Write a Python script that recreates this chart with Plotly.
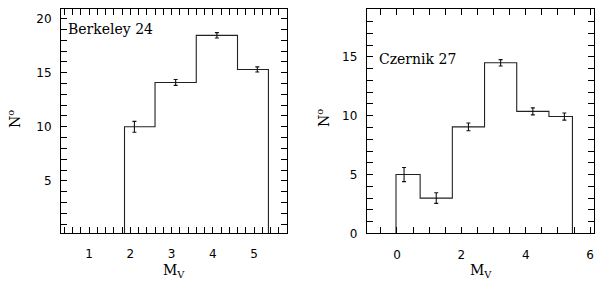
import plotly.graph_objects as go

# Berkeley 24
b24_edges = [1.86, 2.6, 3.6, 4.6, 5.35]
b24_counts = [10.0, 14.1, 18.45, 15.3]
b24_centers = [2.1, 3.1, 4.1, 5.08]
b24_errors = [0.5, 0.27, 0.25, 0.24]

# Czernik 27
c27_edges = [-0.03, 0.72, 1.72, 2.72, 3.72, 4.72, 5.45]
c27_counts = [5.0, 3.0, 9.05, 14.5, 10.37, 9.93]
c27_centers = [0.22, 1.22, 2.22, 3.22, 4.22, 5.2]
c27_errors = [0.6, 0.45, 0.33, 0.27, 0.3, 0.3]

W, H = 595, 282

B24_XRANGE = [0.32, 5.8]
B24_YRANGE = [0.18, 20.88]
C27_XRANGE = [-0.94, 6.12]
C27_YRANGE = [0, 19.07]


def steps(edges, counts, base):
    xs, ys = [edges[0]], [base]
    for i, c in enumerate(counts):
        xs += [edges[i], edges[i + 1]]
        ys += [c, c]
    xs.append(edges[-1])
    ys.append(base)
    return xs, ys


fig = go.Figure()

for (edges, counts, centers, errs, base, xa, ya) in [
    (b24_edges, b24_counts, b24_centers, b24_errors, B24_YRANGE[0], "x", "y"),
    (c27_edges, c27_counts, c27_centers, c27_errors, C27_YRANGE[0], "x2", "y2"),
]:
    sx, sy = steps(edges, counts, base)
    fig.add_trace(go.Scatter(x=sx, y=sy, mode="lines", xaxis=xa, yaxis=ya,
                             line=dict(color="#222", width=1.1), showlegend=False,
                             hoverinfo="skip"))
    fig.add_trace(go.Scatter(x=centers, y=counts, mode="markers", xaxis=xa, yaxis=ya,
                             marker=dict(size=0.1, color="black"),
                             error_y=dict(type="data", array=errs, color="#111",
                                          thickness=1.1, width=2),
                             showlegend=False, hoverinfo="skip"))

# empty traces so the label-only overlay axes are drawn
for xa, ya in [("x3", "y"), ("x", "y3"), ("x4", "y2"), ("x2", "y4")]:
    fig.add_trace(go.Scatter(x=[None], y=[None], xaxis=xa, yaxis=ya, mode="markers",
                             showlegend=False, hoverinfo="skip"))


def px_x(v):
    return v / W


def px_y(v):
    return 1 - v / H


tickfont = dict(family="DejaVu Sans", size=12, color="black")
frame = dict(showline=True, linecolor="black", linewidth=1.3, mirror="allticks",
             ticks="inside", ticklen=6, tickwidth=1, tickcolor="black",
             showgrid=False, zeroline=False, showticklabels=False)
minor_common = dict(ticklen=3, ticks="inside", tickcolor="black", tickwidth=1, showgrid=False)
labels = dict(showline=False, showgrid=False, zeroline=False, ticks="outside",
              tickcolor="rgba(0,0,0,0)", tickwidth=1, tickfont=tickfont)

fig.update_layout(
    width=W, height=H,
    margin=dict(l=0, r=0, t=0, b=0),
    paper_bgcolor="white", plot_bgcolor="white",
    xaxis=dict(domain=[px_x(61), px_x(287)], range=B24_XRANGE, anchor="y",
               dtick=1, tick0=0, minor=dict(dtick=0.2, tick0=0, **minor_common), **frame),
    yaxis=dict(domain=[px_y(239), px_y(9.3)], range=B24_YRANGE, anchor="x",
               dtick=5, tick0=0, minor=dict(dtick=1, tick0=0, **minor_common), **frame),
    xaxis2=dict(domain=[px_x(366.7), px_x(594)], range=C27_XRANGE, anchor="y2",
                dtick=2, tick0=0, minor=dict(dtick=0.5, tick0=0, **minor_common), **frame),
    yaxis2=dict(domain=[px_y(239.3), px_y(9.3)], range=C27_YRANGE, anchor="x2",
                dtick=5, tick0=0, minor=dict(dtick=1, tick0=0, **minor_common), **frame),
    xaxis3=dict(overlaying="x", anchor="y", side="bottom", range=B24_XRANGE,
                dtick=1, tick0=0, ticklen=10, **labels),
    yaxis3=dict(overlaying="y", anchor="x", side="left", range=B24_YRANGE,
                dtick=5, tick0=0, ticklen=6, **labels),
    xaxis4=dict(overlaying="x2", anchor="y2", side="bottom", range=C27_XRANGE,
                dtick=2, tick0=0, ticklen=10, **labels),
    yaxis4=dict(overlaying="y2", anchor="x2", side="left", range=C27_YRANGE,
                dtick=5, tick0=0, ticklen=6, **labels),
)

serif = dict(family="DejaVu Serif", size=14, color="black")
annots = [
    dict(text="Berkeley 24", x=px_x(66), y=px_y(30), xanchor="left", yanchor="middle", font=serif),
    dict(text="Czernik 27", x=px_x(377), y=px_y(60), xanchor="left", yanchor="middle", font=serif),
    dict(text="N<sup>o</sup>", x=px_x(14), y=px_y(122), xanchor="center", yanchor="middle",
         textangle=-90, font=serif),
    dict(text="N<sup>o</sup>", x=px_x(323), y=px_y(121), xanchor="center", yanchor="middle",
         textangle=-90, font=serif),
    dict(text="M<sub>V</sub>", x=px_x(174), y=px_y(278), xanchor="center", yanchor="middle", font=serif),
    dict(text="M<sub>V</sub>", x=px_x(481), y=px_y(278), xanchor="center", yanchor="middle", font=serif),
]
for a in annots:
    fig.add_annotation(xref="paper", yref="paper", showarrow=False, **a)

fig.write_html("out.html", config={"displayModeBar": False},
               post_script="document.body.style.margin='0';document.body.style.overflow='hidden';")
